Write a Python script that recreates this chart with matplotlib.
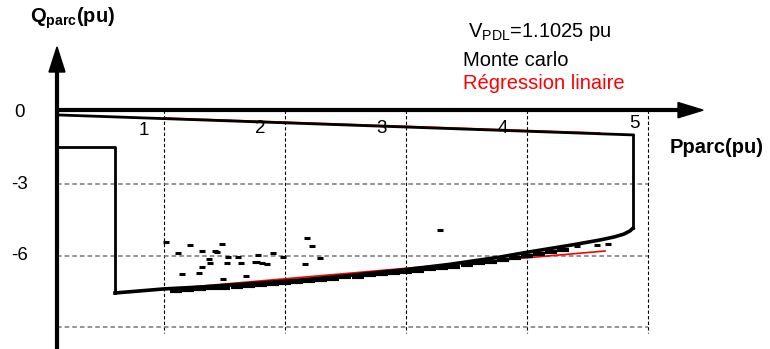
import matplotlib
matplotlib.use("Agg")
import matplotlib.pyplot as plt
from matplotlib.patches import Polygon

plt.rcParams['font.family'] = ['Liberation Sans', 'DejaVu Sans']
plt.rcParams['mathtext.fontset'] = 'custom'
plt.rcParams['mathtext.rm'] = 'Liberation Sans'
plt.rcParams['mathtext.bf'] = 'Liberation Sans:bold'

# domain boundary (black outline)
top_x = [0.116, 4.876]
top_y = [-0.10, -0.94]
right_x = [4.876, 4.876]
right_y = [-0.94, -4.85]
low_x = [4.876, 4.85, 4.80, 4.72, 4.60, 4.40, 4.27, 3.98, 3.78, 3.36, 2.98, 2.54, 2.12,
         1.71, 1.30, 1.00, 0.595]
low_y = [-4.85, -4.97, -5.10, -5.22, -5.35, -5.53, -5.64, -5.88, -6.06, -6.37, -6.60, -6.83,
         -7.03, -7.18, -7.32, -7.40, -7.57]
step_x = [0.595, 0.595, 0.116]
step_y = [-7.57, -1.45, -1.45]

# Monte carlo points
mc_x = [1.017, 1.116, 1.215, 1.314, 1.421, 1.479, 1.438, 1.372, 1.380, 1.314, 1.289, 1.149,
        1.488, 1.678, 1.529, 1.612, 1.521, 1.636, 1.752, 1.769, 1.810, 1.851, 1.777, 1.901,
        1.983, 2.182, 2.223, 2.289, 2.165, 3.281, 4.41, 4.58, 4.67]
mc_y = [-5.43, -5.90, -5.56, -5.81, -5.81, -5.52, -5.85, -6.15, -6.32, -6.48, -6.74, -6.78,
        -6.99, -6.86, -6.06, -6.06, -6.32, -6.32, -6.27, -6.27, -6.32, -6.36, -5.98, -5.90,
        -6.06, -5.27, -5.60, -6.10, -6.36, -4.93, -5.62, -5.55, -5.52]
band_x = [1.10, 1.20, 1.30, 1.40, 1.50, 1.60, 1.70, 1.80, 1.90, 2.00, 2.10, 2.20, 2.30, 2.40,
          2.50, 2.60, 2.70, 2.80, 2.90, 3.00, 3.10, 3.20, 3.30, 3.40, 3.50, 3.60, 3.70, 3.80,
          3.90, 4.00, 4.10, 4.20, 4.30]
band_y = [-7.47, -7.45, -7.42, -7.38, -7.35, -7.32, -7.28, -7.24, -7.20, -7.15, -7.11, -7.07,
          -7.02, -6.97, -6.92, -6.88, -6.83, -6.78, -6.73, -6.69, -6.64, -6.58, -6.52, -6.46,
          -6.40, -6.33, -6.26, -6.19, -6.11, -6.03, -5.95, -5.87, -5.78]

# linear regression (red)
reg_top_x = [1.01, 4.60]
reg_top_y = [-0.23, -0.86]
reg_low_x = [1.215, 4.645]
reg_low_y = [-7.32, -5.81]

x_ticks = [1, 2, 3, 4, 5]
y_ticks = [0, -3, -6]

fig = plt.figure(figsize=(7.7, 3.49), dpi=100)
ax = fig.add_axes([0, 0, 1, 1])
ax.set_xlim(-0.355, 6.008)
ax.set_ylim(-9.92, 4.72)
ax.axis('off')

# grid
for xv in x_ticks:
    ax.plot([xv, xv], [0.1, -9.25], color='black', lw=0.8, ls=(0, (3, 2)), zorder=1)
for yv in [-3, -6, -9]:
    ax.plot([0.116, 5.0], [yv, yv], color='#777777', lw=1.1, ls=(0, (3, 2)), zorder=1)

# axes with arrows
ax.plot([0.116, 0.116], [-9.92, 1.70], color='black', lw=3, solid_capstyle='butt', zorder=3)
ax.add_patch(Polygon([[0.05, 1.70], [0.182, 1.70], [0.116, 2.75]], closed=True,
                     color='black', zorder=3))
ax.plot([0.116, 5.25], [0.1, 0.1], color='black', lw=3, solid_capstyle='butt', zorder=3)
ax.add_patch(Polygon([[5.248, 0.42], [5.248, -0.22], [5.455, 0.1]], closed=True,
                     color='black', zorder=3))

# regression lines
ax.plot(reg_top_x, reg_top_y, color='red', lw=1.2, zorder=2)
ax.plot(reg_low_x, reg_low_y, color='red', lw=1.2, zorder=2)

# monte carlo
ax.plot(band_x, band_y, ls='none', marker='_', ms=8, mew=3, color='black', zorder=3)
ax.plot(mc_x, mc_y, ls='none', marker='_', ms=4, mew=2.2, color='black', zorder=2)

# boundary
ax.plot(top_x, top_y, color='black', lw=2, zorder=4)
ax.plot(right_x, right_y, color='black', lw=2, zorder=4)
ax.plot(low_x, low_y, color='black', lw=2.6, zorder=4, solid_joinstyle='round')
ax.plot(step_x, step_y, color='black', lw=2, zorder=4)

# tick labels
for xv, lx, ly in zip(x_ticks, [0.83, 1.795, 2.80, 3.80, 4.89], [-0.74, -0.65, -0.65, -0.65, -0.48]):
    ax.text(lx, ly, str(xv), ha='center', va='center', fontsize=13.5)
for yv, ly in zip(y_ticks, [0.0, -3.0, -6.0]):
    ax.text(-0.19, ly, str(yv), ha='center', va='center', fontsize=13.5)

# axis titles
ax.text(-0.11, 3.96, r'$\mathbf{Q_{parc}(pu)}$', ha='left', va='center', fontsize=14.5)
ax.text(5.18, -1.45, 'Pparc(pu)', ha='left', va='center', fontsize=14.5, fontweight='bold')

# legend-like text
ax.text(3.515, 3.38, r'$\mathrm{V_{PDL}}$=1.1025 pu', ha='left', va='center', fontsize=14.5)
ax.text(3.47, 2.2, 'Monte carlo', ha='left', va='center', fontsize=14.5)
ax.text(3.47, 1.2, 'Régression linaire', ha='left', va='center', fontsize=14.5, color='red')

fig.savefig('out.png', dpi=100)
